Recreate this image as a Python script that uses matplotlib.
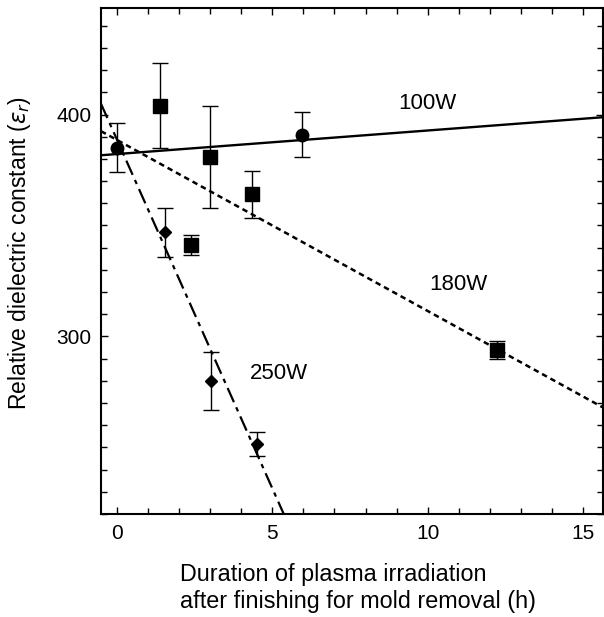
import numpy as np
import matplotlib.pyplot as plt
from matplotlib.ticker import MultipleLocator

plt.rcParams['font.family'] = ['Liberation Sans', 'DejaVu Sans']

# 100W (circles)
x_100 = [0.0, 5.95]
y_100 = [385, 391]
e_100 = [11, 10]

# 180W (squares)
x_180 = [1.38, 2.38, 2.99, 4.34, 12.22]
y_180 = [404, 341, 381, 364, 294]
e_180 = [19, 4.5, 23, 10.5, 4]

# 250W (diamonds)
x_250 = [1.54, 3.02, 4.5]
y_250 = [347, 280, 251.5]
e_250 = [11, 13, 5.5]

# fitted lines: intercept, slope
fit_100 = (382.2, 1.06)
fit_180 = (388.5, -7.7)
fit_250 = (388.5, -31.4)

xlim = (-0.52, 15.65)
ylim = (220, 448)

fig = plt.figure(figsize=(6.04, 6.17), dpi=100)
ax = fig.add_axes([101/604, 103/617, 502/604, 506/617])

xx = np.linspace(xlim[0], xlim[1], 200)
ax.plot(xx, fit_100[0] + fit_100[1]*xx, color='black', lw=1.7)
ax.plot(xx, fit_180[0] + fit_180[1]*xx, color='black', lw=1.8,
        dashes=(2.2, 1.6))
ax.plot(xx, fit_250[0] + fit_250[1]*xx, color='black', lw=1.6,
        dashes=(7, 2.5, 2, 2.5))

ax.errorbar(x_100, y_100, yerr=e_100, fmt='o', color='black', ms=9,
            capsize=5.5, elinewidth=1, capthick=1)
ax.errorbar(x_180, y_180, yerr=e_180, fmt='s', color='black', ms=9.5,
            capsize=5.5, elinewidth=1, capthick=1)
ax.errorbar(x_250, y_250, yerr=e_250, fmt='D', color='black', ms=6.5,
            capsize=5.5, elinewidth=1, capthick=1)

ax.text(10.0, 405, '100W', fontsize=16, ha='center', va='center')
ax.text(11.0, 323.5, '180W', fontsize=16, ha='center', va='center')
ax.text(5.2, 283.5, '250W', fontsize=16, ha='center', va='center')

ax.set_xlim(*xlim)
ax.set_ylim(*ylim)
ax.xaxis.set_major_locator(MultipleLocator(5))
ax.xaxis.set_minor_locator(MultipleLocator(1))
ax.yaxis.set_major_locator(MultipleLocator(100))
ax.yaxis.set_minor_locator(MultipleLocator(10))
ax.tick_params(which='both', direction='in', top=True, right=True,
               labelsize=15, width=1)
ax.tick_params(which='major', length=5, pad=7)
ax.tick_params(which='minor', length=4)
for s in ax.spines.values():
    s.set_linewidth(1.5)

fig.text(20/604, 1 - 253/617, 'Relative dielectric constant ($\\varepsilon_r$)',
         fontsize=16.5, rotation=90, ha='center', va='center')
fig.text(180/604, 1 - 588/617,
         'Duration of plasma irradiation\nafter finishing for mold removal (h)',
         fontsize=16.8, ha='left', va='center', linespacing=1.2)

fig.savefig('out.png', dpi=100)
